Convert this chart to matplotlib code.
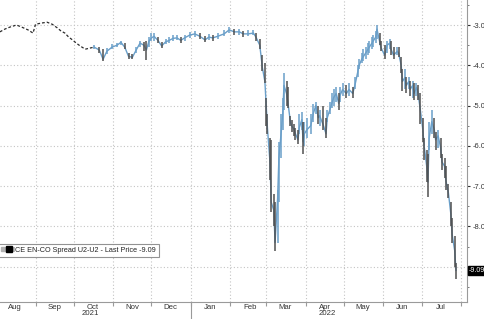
import matplotlib
matplotlib.use("Agg")
import matplotlib.pyplot as plt
import matplotlib.dates as mdates
import matplotlib.transforms as mtransforms
from matplotlib.lines import Line2D
from matplotlib.legend_handler import HandlerTuple
import numpy as np
import pandas as pd

plt.rcParams["font.family"] = ["Liberation Sans", "DejaVu Sans"]
plt.rcParams["axes.unicode_minus"] = False

# sparse early quotes (drawn dashed)
early_dates = ["2021-08-04", "2021-08-08", "2021-08-12", "2021-08-17", "2021-08-21",
               "2021-08-26", "2021-08-30", "2021-09-01", "2021-09-06", "2021-09-10",
               "2021-09-14", "2021-09-18", "2021-09-21", "2021-09-24", "2021-09-27",
               "2021-09-30", "2021-10-03", "2021-10-06", "2021-10-10", "2021-10-14",
               "2021-10-17"]
early_close = [-3.17, -3.10, -3.05, -3.00, -3.05, -3.12, -3.20, -2.98, -2.95, -2.93,
               -2.98, -3.07, -3.15, -3.20, -3.30, -3.37, -3.45, -3.52, -3.60, -3.57,
               -3.55]

dates = ["2021-10-17", "2021-10-21", "2021-10-24", "2021-10-27", "2021-10-31",
         "2021-11-04", "2021-11-07", "2021-11-10", "2021-11-13", "2021-11-16",
         "2021-11-19", "2021-11-22", "2021-11-25", "2021-11-27", "2021-11-29",
         "2021-12-01", "2021-12-03", "2021-12-06", "2021-12-09", "2021-12-12",
         "2021-12-15", "2021-12-18", "2021-12-21", "2021-12-24", "2021-12-27",
         "2021-12-31", "2022-01-04", "2022-01-08", "2022-01-12", "2022-01-15",
         "2022-01-18", "2022-01-22", "2022-01-27", "2022-01-31", "2022-02-04",
         "2022-02-08", "2022-02-11", "2022-02-15", "2022-02-19", "2022-02-21",
         "2022-02-24", "2022-02-26", "2022-02-28", "2022-03-01", "2022-03-02",
         "2022-03-04", "2022-03-05", "2022-03-07", "2022-03-08", "2022-03-10",
         "2022-03-11", "2022-03-13", "2022-03-14", "2022-03-15", "2022-03-17",
         "2022-03-18", "2022-03-20", "2022-03-21", "2022-03-23", "2022-03-24",
         "2022-03-26", "2022-03-27", "2022-03-29", "2022-03-30", "2022-03-31",
         "2022-04-02", "2022-04-05", "2022-04-07", "2022-04-09", "2022-04-11",
         "2022-04-12", "2022-04-15", "2022-04-17", "2022-04-18", "2022-04-20",
         "2022-04-22", "2022-04-23", "2022-04-25", "2022-04-27", "2022-04-28",
         "2022-04-30", "2022-05-03", "2022-05-05", "2022-05-08", "2022-05-10",
         "2022-05-12", "2022-05-13", "2022-05-15", "2022-05-16", "2022-05-18",
         "2022-05-20", "2022-05-21", "2022-05-23", "2022-05-24", "2022-05-26",
         "2022-05-27", "2022-05-29", "2022-05-30", "2022-06-02", "2022-06-04",
         "2022-06-06", "2022-06-07", "2022-06-09", "2022-06-12", "2022-06-13",
         "2022-06-15", "2022-06-16", "2022-06-18", "2022-06-19", "2022-06-21",
         "2022-06-22", "2022-06-24", "2022-06-25", "2022-06-27", "2022-06-28",
         "2022-06-30", "2022-07-02", "2022-07-03", "2022-07-05", "2022-07-06",
         "2022-07-07", "2022-07-09", "2022-07-11", "2022-07-12", "2022-07-14",
         "2022-07-16", "2022-07-17", "2022-07-19", "2022-07-20", "2022-07-22",
         "2022-07-24", "2022-07-25", "2022-07-27", "2022-07-28"]

close = [-3.55, -3.62, -3.85, -3.65, -3.55, -3.50, -3.43, -3.55, -3.78, -3.80,
         -3.62, -3.45, -3.50, -3.62, -3.40, -3.32, -3.28, -3.38, -3.52, -3.42,
         -3.38, -3.33, -3.32, -3.38, -3.32, -3.25, -3.22, -3.28, -3.37, -3.30,
         -3.32, -3.28, -3.22, -3.12, -3.17, -3.17, -3.22, -3.22, -3.20, -3.30,
         -3.50, -4.05, -4.40, -5.00, -5.55, -6.40, -7.40, -7.60, -8.40, -7.30,
         -6.30, -5.60, -5.20, -4.50, -4.70, -4.90, -5.40, -5.50, -5.60, -5.70,
         -5.85, -5.55, -5.35, -5.90, -5.70, -5.60, -5.50, -5.20, -5.00, -5.30,
         -5.25, -5.50, -5.70, -5.30, -5.10, -4.90, -4.80, -4.70, -4.95, -4.75,
         -4.60, -4.70, -4.60, -4.70, -4.45, -4.15, -4.00, -3.85, -3.80, -3.70,
         -3.60, -3.55, -3.45, -3.40, -3.30, -3.10, -3.40, -3.55, -3.75, -3.50,
         -3.45, -3.60, -3.75, -3.65, -3.70, -4.00, -4.40, -4.30, -4.50, -4.40,
         -4.60, -4.50, -4.70, -4.55, -4.65, -5.10, -5.60, -6.00, -6.50, -6.90,
         -5.80, -5.40, -5.60, -5.85, -5.75, -6.05, -6.40, -6.50, -6.85, -7.15,
         -7.70, -8.20, -8.60, -9.09]

high = [-3.50, -3.55, -3.60, -3.58, -3.48, -3.45, -3.40, -3.45, -3.70, -3.72,
        -3.55, -3.40, -3.42, -3.40, -3.30, -3.20, -3.20, -3.30, -3.42, -3.35,
        -3.30, -3.25, -3.25, -3.30, -3.25, -3.18, -3.15, -3.20, -3.28, -3.22,
        -3.25, -3.20, -3.12, -3.05, -3.10, -3.10, -3.15, -3.12, -3.12, -3.20,
        -3.35, -3.75, -3.95, -4.80, -5.20, -5.80, -5.85, -7.20, -7.40, -7.10,
        -5.90, -5.20, -4.80, -4.20, -4.40, -4.55, -5.25, -5.35, -5.45, -5.55,
        -5.60, -5.20, -5.15, -5.40, -5.40, -5.30, -5.20, -4.95, -4.90, -5.00,
        -5.10, -5.00, -5.30, -5.10, -4.90, -4.70, -4.60, -4.55, -4.70, -4.55,
        -4.45, -4.50, -4.45, -4.55, -4.30, -4.00, -3.85, -3.70, -3.60, -3.55,
        -3.45, -3.40, -3.30, -3.25, -3.15, -3.00, -3.20, -3.40, -3.50, -3.40,
        -3.35, -3.40, -3.55, -3.55, -3.55, -3.80, -4.10, -4.10, -4.30, -4.30,
        -4.40, -4.40, -4.45, -4.45, -4.50, -4.70, -5.30, -5.80, -6.10, -6.20,
        -5.40, -5.10, -5.30, -5.65, -5.60, -5.80, -6.20, -6.30, -6.50, -6.95,
        -7.40, -7.80, -8.25, -8.90]

low = [-3.60, -3.70, -3.90, -3.72, -3.60, -3.55, -3.50, -3.60, -3.85, -3.85,
       -3.70, -3.55, -3.65, -3.88, -3.55, -3.40, -3.40, -3.45, -3.58, -3.48,
       -3.45, -3.40, -3.38, -3.45, -3.40, -3.32, -3.30, -3.35, -3.42, -3.36,
       -3.40, -3.35, -3.28, -3.20, -3.25, -3.25, -3.30, -3.28, -3.25, -3.40,
       -3.60, -4.15, -4.45, -5.50, -5.70, -6.85, -7.65, -8.00, -8.62, -8.40,
       -7.40, -6.30, -5.60, -5.10, -5.00, -5.05, -5.50, -5.65, -5.75, -5.85,
       -5.95, -5.70, -5.60, -6.20, -6.00, -5.80, -5.70, -5.40, -5.20, -5.45,
       -5.50, -5.60, -5.80, -5.40, -5.20, -5.05, -5.00, -4.90, -5.10, -4.90,
       -4.75, -4.80, -4.75, -4.80, -4.60, -4.30, -4.10, -3.95, -3.90, -3.85,
       -3.75, -3.70, -3.60, -3.55, -3.45, -3.35, -3.50, -3.65, -3.85, -3.70,
       -3.60, -3.75, -3.85, -3.75, -3.80, -4.20, -4.65, -4.60, -4.70, -4.60,
       -4.75, -4.80, -4.85, -4.75, -4.85, -5.45, -5.90, -6.35, -6.90, -7.27,
       -6.10, -5.70, -5.80, -6.10, -6.05, -6.30, -6.60, -6.80, -7.10, -7.30,
       -8.00, -8.40, -9.00, -9.30]

last_price = -9.09
legend_label = "ICE EN-CO Spread U2-U2 - Last Price -9.09"
month_fmt = "%b"
year_labels = ["2021", "2022"]
year_label_dates = ["2021-10-14", "2022-04-18"]

early_dates = pd.to_datetime(early_dates)
dates = pd.to_datetime(dates)
close = np.array(close)
high = np.array(high)
low = np.array(low)

fig = plt.figure(figsize=(4.85, 3.19), dpi=100)
ax = fig.add_axes([0, 0.0533, 0.9629, 0.9467])

ax.plot(early_dates, early_close, color="#2b2b2b", lw=0.9, dashes=(2.2, 1.6))
ax.plot(dates, close, color="#6a9fc9", lw=1.0, zorder=3)
up = np.r_[True, close[1:] >= close[:-1]]
ax.vlines(dates[up], low[up], high[up], color="#6a9fc9", lw=1.1, zorder=3)
ax.vlines(dates[~up], low[~up], high[~up], color="#4f4f4f", lw=1.1, zorder=3)

ax.set_xlim(pd.Timestamp("2021-08-04 02:00"), pd.Timestamp("2022-08-05 16:00"))
ax.set_ylim(-9.876, -2.379)

# grid
grid_kw = dict(color="#c4c4c4", lw=0.8, linestyle=(0, (1, 2)))
ax.xaxis.set_major_locator(mdates.MonthLocator())
ax.xaxis.set_major_formatter(plt.NullFormatter())
ax.xaxis.set_minor_locator(mdates.MonthLocator(bymonthday=16))
ax.xaxis.set_minor_formatter(mdates.DateFormatter(month_fmt))
ax.grid(True, which="major", axis="both", **grid_kw)
ax.set_axisbelow(True)

ax.yaxis.tick_right()
yticks = np.arange(-9, -2, 1)
ax.set_yticks(yticks)
# the -9 label sits under the last price tag
ax.set_yticklabels(["" if v == -9 else f"{v:.1f}" for v in yticks])
ax.set_yticks(np.arange(-9.5, -2.4, 0.5), minor=True)

for side in ["top", "left"]:
    ax.spines[side].set_visible(False)
for side in ["right", "bottom"]:
    ax.spines[side].set_color("#9a9a9a")
    ax.spines[side].set_linewidth(0.8)

ax.tick_params(axis="x", which="major", length=3, color="#9a9a9a", width=0.8)
ax.tick_params(axis="x", which="minor", length=0, pad=1.5, labelsize=5.6,
               labelcolor="#333333")
ax.tick_params(axis="y", which="major", length=2.5, width=0.8, color="#333333",
               pad=1.5, labelsize=5.4, labelcolor="#333333")
ax.tick_params(axis="y", which="minor", length=1.5, width=0.6, color="#666666")

# year labels and separator under the axis
trans = mtransforms.blended_transform_factory(ax.transData, ax.transAxes)
for lab, d in zip(year_labels, pd.to_datetime(year_label_dates)):
    ax.text(d, -0.027, lab, transform=trans, ha="center", va="top",
            fontsize=5.6, color="#333333")
ax.add_line(Line2D([mdates.date2num(pd.Timestamp("2022-01-01"))] * 2, [0, -0.056],
                   transform=trans, color="#9a9a9a", lw=0.8, clip_on=False))

# last price tag
ax.annotate(f"{last_price:.2f}", xy=(1.0, last_price),
            xycoords=("axes fraction", "data"), xytext=(1.5, 0),
            textcoords="offset points", ha="left", va="center", fontsize=5.0,
            color="white", zorder=5, annotation_clip=False,
            bbox=dict(boxstyle="square,pad=0.12", fc="black", ec="black"))

# legend
h1 = Line2D([], [], marker="s", color="none", markerfacecolor="#b0b0b0",
            markeredgecolor="#b0b0b0", markersize=3)
h2 = Line2D([], [], marker="s", color="none", markerfacecolor="black",
            markeredgecolor="black", markersize=4.5)
leg = ax.legend([(h1, h2)], [legend_label], handler_map={tuple: HandlerTuple(ndivide=None, pad=0.3)},
                loc="lower left", bbox_to_anchor=(-0.004, 0.15), fontsize=5.2,
                frameon=True, fancybox=False, edgecolor="#777777", borderpad=0.4,
                handlelength=1.4, handletextpad=0.3, borderaxespad=0)
leg.get_frame().set_linewidth(0.8)
for t in leg.get_texts():
    t.set_color("#222222")

fig.savefig("out.png", dpi=100)
